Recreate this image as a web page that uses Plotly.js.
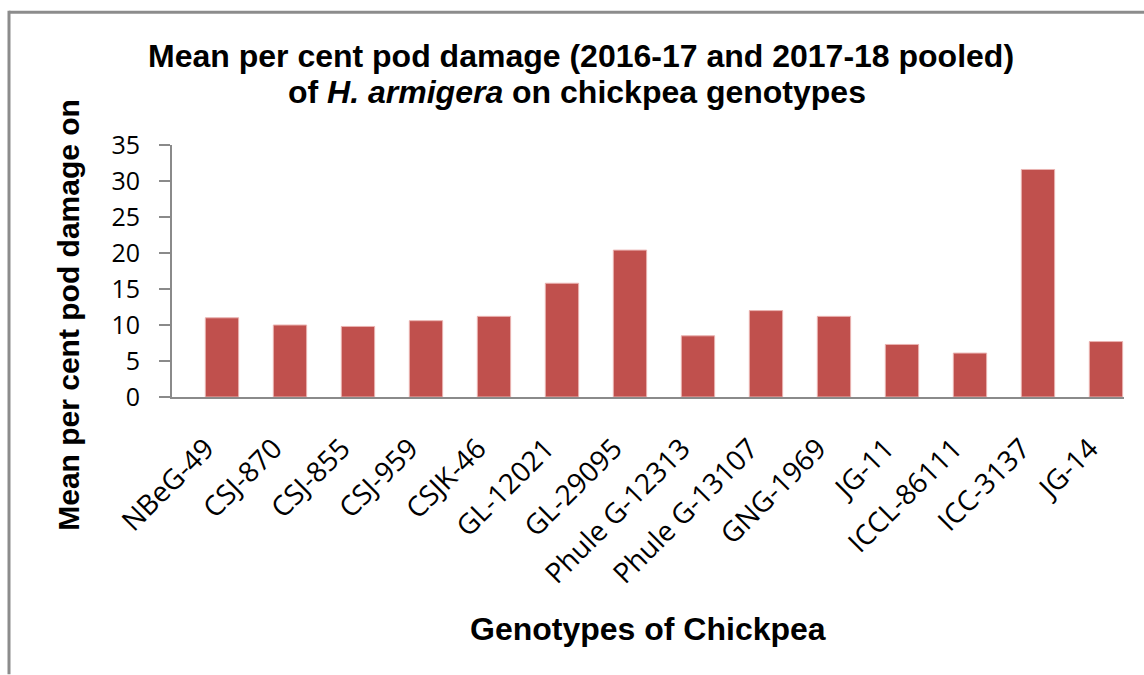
<!DOCTYPE html>
<html>
<head>
<meta charset="utf-8">
<script src="https://cdn.plot.ly/plotly-3.0.1.min.js"></script>
<style>
html,body{margin:0;padding:0;background:#fff;}
#chart{width:1144px;height:675px;}
</style>
</head>
<body>
<div id="chart"></div>
<script>
var genotypes = ["NBeG-49","CSJ-870","CSJ-855","CSJ-959","CSJK-46","GL-12021","GL-29095","Phule G-12313","Phule G-13107","GNG-1969","JG-11","ICCL-86111","ICC-3137","JG-14"];
var podDamage = [11.0, 10.0, 9.8, 10.6, 11.2, 15.8, 20.4, 8.5, 12.0, 11.2, 7.3, 6.1, 31.6, 7.7];
var yTicks = [0,5,10,15,20,25,30,35];

var L = 172, R = 1124, T = 145.0, B = 397.3;
function px(x){ return (x - L) / (R - L); }
function py(y){ return (B - y) / (B - T); }

var trace = {
  type: 'bar',
  x: genotypes,
  y: podDamage,
  width: 0.49,
  offset: -0.01,
  marker: {color: '#c0504d', line: {color: '#eab3b1', width: 1}},
  hoverinfo: 'x+y'
};

var layout = {
  width: 1144, height: 675,
  margin: {l: L, r: 1144 - R, t: T, b: 675 - B, pad: 0},
  paper_bgcolor: '#ffffff', plot_bgcolor: '#ffffff',
  showlegend: false,
  bargap: 0.5,
  xaxis: {
    type: 'category',
    range: [-0.5, 13.5],
    showline: true, linecolor: '#8a8a8a', linewidth: 2,
    ticks: '', showgrid: false, zeroline: false,
    tickangle: -45,
    ticklabelstandoff: 22,
    tickfont: {family: 'Open Sans', size: 28, color: '#000'}
  },
  yaxis: {
    range: [0, 35],
    tickvals: yTicks,
    ticktext: yTicks.map(String),
    showline: true, linecolor: '#8a8a8a', linewidth: 2,
    ticks: 'outside', ticklen: 11, tickwidth: 1.5, tickcolor: '#8a8a8a',
    ticklabelstandoff: 14,
    showgrid: false, zeroline: false,
    tickfont: {family: 'Open Sans', size: 25, color: '#000'}
  },
  shapes: [
    {type: 'line', xref: 'paper', yref: 'paper',
     x0: px(9), x1: px(1144), y0: py(12), y1: py(12),
     line: {color: '#8c8c8c', width: 3}, layer: 'below'},
    {type: 'line', xref: 'paper', yref: 'paper',
     x0: px(9), x1: px(9), y0: py(10.5), y1: py(675),
     line: {color: '#8c8c8c', width: 3}, layer: 'below'}
  ],
  annotations: [
    {text: '<b>Mean per cent pod damage (2016-17 and 2017-18 pooled)</b>', xref: 'paper', yref: 'paper',
     x: px(581), y: py(56), xanchor: 'center', yanchor: 'middle', showarrow: false,
     font: {family: 'Liberation Sans, Arial', size: 32, color: '#000'}},
    {text: '<b>of <i>H. armigera</i> on chickpea genotypes</b>', xref: 'paper', yref: 'paper',
     x: px(577), y: py(92), xanchor: 'center', yanchor: 'middle', showarrow: false,
     font: {family: 'Liberation Sans, Arial', size: 32, color: '#000'}},
    {text: '<b>Mean per cent pod damage on</b>', xref: 'paper', yref: 'paper', textangle: -90,
     x: px(69), y: py(315), xanchor: 'center', yanchor: 'middle', showarrow: false,
     font: {family: 'Liberation Sans, Arial', size: 30, color: '#000'}},
    {text: '<b>Genotypes of Chickpea</b>', xref: 'paper', yref: 'paper',
     x: px(648), y: py(630), xanchor: 'center', yanchor: 'middle', showarrow: false,
     font: {family: 'Liberation Sans, Arial', size: 32, color: '#000'}}
  ]
};

Plotly.newPlot('chart', [trace], layout, {displayModeBar: false, staticPlot: true});
</script>
</body>
</html>
